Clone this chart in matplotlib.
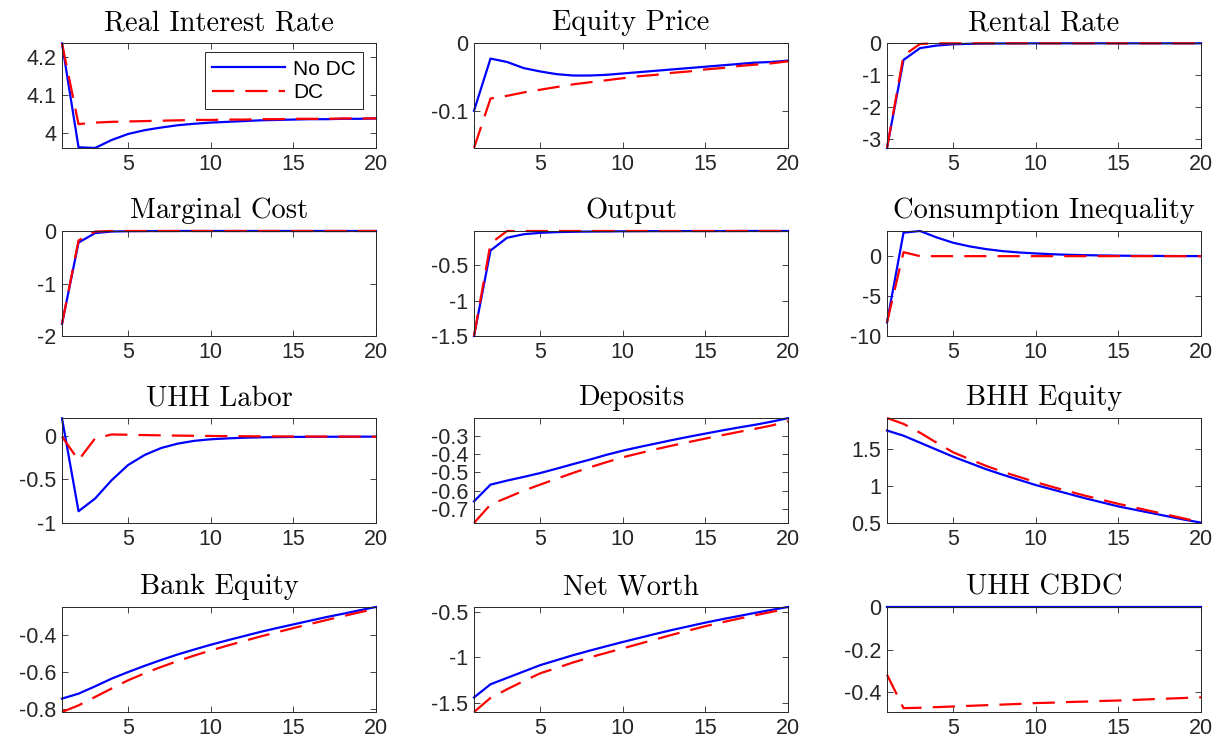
import numpy as np
import matplotlib
matplotlib.use('Agg')
import matplotlib.pyplot as plt
from matplotlib.ticker import FormatStrFormatter

plt.rcParams['font.family'] = ['Liberation Sans', 'DejaVu Sans']
plt.rcParams['axes.unicode_minus'] = False

# horizon
periods = list(range(1, 21))

titles = ['Real Interest Rate', 'Equity Price', 'Rental Rate',
          'Marginal Cost', 'Output', 'Consumption Inequality',
          'UHH Labor', 'Deposits', 'BHH Equity',
          'Bank Equity', 'Net Worth', 'UHH CBDC']

# No DC (solid blue)
rate_nodc = [4.237, 3.963, 3.961, 3.982, 3.998, 4.008, 4.015, 4.021, 4.025, 4.028,
             4.030, 4.032, 4.034, 4.035, 4.036, 4.037, 4.037, 4.038, 4.038, 4.039]
equity_nodc = [-0.100, -0.023, -0.028, -0.037, -0.042, -0.046, -0.048, -0.048, -0.047, -0.045,
               -0.043, -0.041, -0.039, -0.037, -0.035, -0.033, -0.031, -0.029, -0.028, -0.026]
rental_nodc = [-3.28, -0.52, -0.15, -0.07, -0.03, -0.015, -0.008, -0.004, -0.002, -0.001,
               0, 0, 0, 0, 0, 0, 0, 0, 0, 0]
mc_nodc = [-1.77, -0.22, -0.04, -0.01, -0.004, -0.002, -0.001, 0, 0, 0,
           0, 0, 0, 0, 0, 0, 0, 0, 0, 0]
output_nodc = [-1.50, -0.29, -0.11, -0.06, -0.04, -0.03, -0.025, -0.022, -0.02, -0.018,
               -0.017, -0.016, -0.016, -0.015, -0.015, -0.015, -0.014, -0.014, -0.014, -0.014]
ineq_nodc = [-8.3, 2.94, 3.15, 2.35, 1.68, 1.22, 0.88, 0.63, 0.46, 0.34,
             0.24, 0.17, 0.12, 0.09, 0.06, 0.04, 0.03, 0.02, 0.01, 0.01]
labor_nodc = [0.20, -0.865, -0.72, -0.51, -0.335, -0.22, -0.14, -0.09, -0.058, -0.04,
              -0.03, -0.022, -0.018, -0.015, -0.013, -0.012, -0.011, -0.011, -0.01, -0.01]
deposits_nodc = [-0.658, -0.567, -0.545, -0.525, -0.504, -0.480, -0.455, -0.431, -0.405, -0.382,
                 -0.362, -0.343, -0.324, -0.306, -0.289, -0.272, -0.256, -0.241, -0.224, -0.205]
bhh_nodc = [1.75, 1.68, 1.585, 1.49, 1.395, 1.31, 1.225, 1.15, 1.08, 1.01,
            0.95, 0.89, 0.83, 0.775, 0.72, 0.675, 0.63, 0.585, 0.54, 0.50]
bank_nodc = [-0.745, -0.718, -0.678, -0.636, -0.600, -0.566, -0.534, -0.504, -0.477, -0.451,
             -0.427, -0.404, -0.381, -0.360, -0.340, -0.320, -0.300, -0.282, -0.263, -0.245]
networth_nodc = [-1.44, -1.295, -1.225, -1.155, -1.085, -1.03, -0.975, -0.925, -0.877, -0.83,
                 -0.785, -0.74, -0.697, -0.657, -0.617, -0.58, -0.545, -0.51, -0.477, -0.445]
cbdc_nodc = [0.0] * 20

# DC (dashed red)
rate_dc = [4.237, 4.024, 4.028, 4.030, 4.031, 4.032, 4.033, 4.034, 4.035, 4.035,
           4.036, 4.036, 4.037, 4.037, 4.038, 4.038, 4.038, 4.039, 4.039, 4.039]
equity_dc = [-0.155, -0.082, -0.078, -0.073, -0.069, -0.065, -0.061, -0.058, -0.055, -0.052,
             -0.049, -0.047, -0.044, -0.042, -0.039, -0.037, -0.034, -0.032, -0.030, -0.027]
rental_dc = [-3.28, -0.38, -0.02, 0, 0, 0, 0, 0, 0, 0,
             0, 0, 0, 0, 0, 0, 0, 0, 0, 0]
mc_dc = [-1.77, -0.18, -0.01, 0, 0, 0, 0, 0, 0, 0,
         0, 0, 0, 0, 0, 0, 0, 0, 0, 0]
output_dc = [-1.50, -0.19, -0.014, -0.014, -0.014, -0.014, -0.014, -0.014, -0.014, -0.014,
             -0.014, -0.014, -0.014, -0.014, -0.014, -0.014, -0.014, -0.014, -0.014, -0.014]
ineq_dc = [-8.3, 0.5, 0.0, 0, 0, 0, 0, 0, 0, 0,
           0, 0, 0, 0, 0, 0, 0, 0, 0, 0]
labor_dc = [-0.01, -0.28, -0.03, 0.015, 0.012, 0.008, 0.005, 0.002, 0.0, -0.002,
            -0.004, -0.005, -0.006, -0.007, -0.008, -0.008, -0.009, -0.009, -0.01, -0.01]
deposits_dc = [-0.776, -0.675, -0.638, -0.600, -0.567, -0.535, -0.503, -0.473, -0.445, -0.418,
               -0.396, -0.374, -0.354, -0.335, -0.316, -0.298, -0.280, -0.263, -0.245, -0.222]
bhh_dc = [1.92, 1.84, 1.72, 1.585, 1.455, 1.36, 1.27, 1.19, 1.12, 1.05,
          0.985, 0.925, 0.865, 0.81, 0.755, 0.705, 0.655, 0.605, 0.555, 0.505]
bank_dc = [-0.818, -0.782, -0.736, -0.690, -0.645, -0.607, -0.572, -0.540, -0.510, -0.482,
           -0.456, -0.431, -0.406, -0.383, -0.360, -0.338, -0.316, -0.295, -0.274, -0.254]
networth_dc = [-1.60, -1.445, -1.35, -1.26, -1.175, -1.115, -1.055, -1.0, -0.95, -0.90,
               -0.85, -0.80, -0.75, -0.703, -0.656, -0.614, -0.574, -0.536, -0.499, -0.463]
cbdc_dc = [-0.318, -0.476, -0.474, -0.471, -0.468, -0.465, -0.462, -0.459, -0.456, -0.452,
           -0.450, -0.447, -0.445, -0.442, -0.440, -0.437, -0.434, -0.431, -0.428, -0.425]

nodc = [rate_nodc, equity_nodc, rental_nodc, mc_nodc, output_nodc, ineq_nodc,
        labor_nodc, deposits_nodc, bhh_nodc, bank_nodc, networth_nodc, cbdc_nodc]
dc = [rate_dc, equity_dc, rental_dc, mc_dc, output_dc, ineq_dc,
      labor_dc, deposits_dc, bhh_dc, bank_dc, networth_dc, cbdc_dc]

ylims = [(3.961, 4.238), (-0.155, 0.0), (-3.28, 0.01), (-2.0, 0.0),
         (-1.5, -0.014), (-10.0, 3.15), (-1.0, 0.204), (-0.776, -0.204),
         (0.495, 1.92), (-0.818, -0.245), (-1.6, -0.445), (-0.494, 0.0)]
yticks = [[4, 4.1, 4.2], [-0.1, 0], [-3, -2, -1, 0], [-2, -1, 0],
          [-1.5, -1, -0.5], [-10, -5, 0], [-1, -0.5, 0], [-0.7, -0.6, -0.5, -0.4, -0.3],
          [0.5, 1, 1.5], [-0.8, -0.6, -0.4], [-1.5, -1, -0.5], [-0.4, -0.2, 0]]

W, H = 1225, 751
fig = plt.figure(figsize=(W / 100, H / 100), dpi=100)

col_left = [62, 474, 887]
row_top = [43, 231, 418, 607]
ax_w, ax_h = 314, 105

for i in range(12):
    r, c = divmod(i, 3)
    ax = fig.add_axes([col_left[c] / W, 1 - (row_top[r] + ax_h) / H, ax_w / W, ax_h / H])
    ax.plot(periods, nodc[i], color='#0000ff', lw=1.6, label='No DC', clip_on=False)
    ax.plot(periods, dc[i], color='#ff0000', lw=1.6, dashes=(10, 5), label='DC', clip_on=False)
    ax.set_xlim(1, 20)
    ax.set_ylim(*ylims[i])
    ax.set_xticks([5, 10, 15, 20])
    ax.set_yticks(yticks[i])
    ax.yaxis.set_major_formatter(FormatStrFormatter('%g'))
    ax.tick_params(direction='in', length=4, width=0.6, labelsize=15.5, pad=4,
                   top=True, right=True, colors='#262626', labelcolor='#262626')
    for s in ax.spines.values():
        s.set_linewidth(0.7)
        s.set_color('#262626')
    ax.set_title(titles[i], family='cmr10', fontsize=20.5, pad=9)
    if i == 0:
        leg = ax.legend(loc='upper right', bbox_to_anchor=(0.96, 0.91), fontsize=15,
                        handlelength=3.5, fancybox=False, framealpha=1,
                        edgecolor='#262626', borderpad=0.35, labelspacing=0.2,
                        handletextpad=0.4, borderaxespad=0)
        leg.get_frame().set_linewidth(0.7)

fig.savefig('out.png', dpi=100)
